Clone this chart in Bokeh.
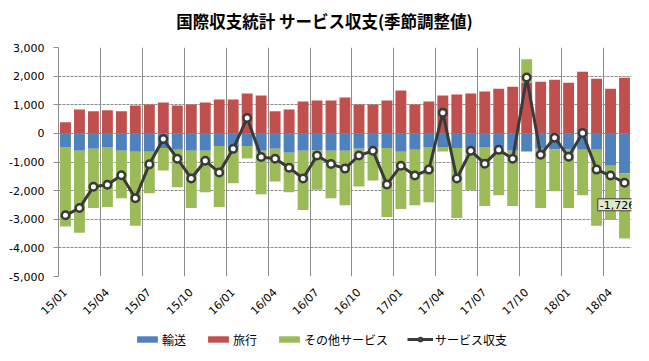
import math
from bokeh.plotting import figure
from bokeh.layouts import column
from bokeh.models import (ColumnDataSource, FixedTicker, NumeralTickFormatter,
                          Legend, LegendItem, Label, Range1d)
from bokeh.embed import file_html
from bokeh.resources import INLINE

# ---- data (億円, 季節調整値) ----
months = ["15/01", "15/02", "15/03", "15/04", "15/05", "15/06", "15/07", "15/08", "15/09",
          "15/10", "15/11", "15/12", "16/01", "16/02", "16/03", "16/04", "16/05", "16/06",
          "16/07", "16/08", "16/09", "16/10", "16/11", "16/12", "17/01", "17/02", "17/03",
          "17/04", "17/05", "17/06", "17/07", "17/08", "17/09", "17/10", "17/11", "17/12",
          "18/01", "18/02", "18/03", "18/04", "18/05"]
tick_labels = ["15/01", "15/04", "15/07", "15/10", "16/01", "16/04", "16/07", "16/10",
               "17/01", "17/04", "17/07", "17/10", "18/01", "18/04"]

transport = [-472, -610, -541, -472, -610, -645, -645, -507, -576, -610,
             -610, -438, -480, -438, -610, -541, -679, -610, -600, -610,
             -610, -540, -500, -507, -645, -576, -472, -472, -507, -507,
             -472, -472, -610, -634, -541, -560, -560, -576, -576, -1128, -1404]
travel = [390, 838, 770, 804, 770, 977, 1011, 1080, 977, 1011,
          1080, 1184, 1184, 1390, 1321, 770, 838, 1115, 1149, 1149,
          1253, 1011, 1011, 1149, 1494, 1011, 1115, 1321, 1356, 1390,
          1459, 1563, 1631, 1780, 1804, 1873, 1770, 2149, 1907, 1563, 1941]
other = [-2780, -2862, -2069, -2104, -1656, -2586, -1448, -793, -1310, -2000,
         -1449, -2138, -1258, -438, -1518, -1138, -1380, -2069, -1366, -1656,
         -1897, -1312, -1145, -2414, -2000, -1931, -1932, -162, -2448, -1483,
         -2069, -1690, -1931, 806, -2069, -1464, -2050, -1586, -2655, -1896, -2265]
balance = [-2862, -2610, -1862, -1793, -1461, -2266, -1082, -197, -886, -1576,
           -955, -1369, -541, 538, -828, -886, -1197, -1576, -772, -1070,
           -1231, -772, -610, -1783, -1128, -1473, -1266, 724, -1576, -610,
           -1059, -576, -886, 1952, -748, -150, -817, 10, -1266, -1473, -1726]

series_names = ["輸送", "旅行", "その他サービス", "サービス収支"]
colors = ["#4F81BD", "#C0504D", "#9BBB59", "#3A3A3A"]
title_text = "国際収支統計 サービス収支(季節調整値)"

# ---- stacking (positives and negatives stacked separately) ----
n = len(months)
xs = [i + 0.5 for i in range(n)]
o_bottom, o_top = [], []
for t, tr, o in zip(transport, travel, other):
    if o < 0:
        o_top.append(t)
        o_bottom.append(t + o)
    else:
        o_bottom.append(tr)
        o_top.append(tr + o)

src = ColumnDataSource(dict(x=xs, transport=transport, travel=travel,
                            o_bottom=o_bottom, o_top=o_top, balance=balance,
                            zero=[0] * n))
# swatch-only source for the legend strip (draws nothing, only legend swatches)
nan = float("nan")
swatch = ColumnDataSource(dict(x=[nan], transport=[nan], travel=[nan], o_bottom=[nan],
                               o_top=[nan], balance=[nan], zero=[nan]))

JP = "Noto Sans CJK JP"
NUM = "DejaVu Sans"
GRID = "#8C8C8C"
W = 0.78


def strip(height, x_range, y_range):
    f = figure(width=641, height=height, x_range=x_range, y_range=y_range,
               output_backend="svg", toolbar_location=None,
               x_axis_location=None, y_axis_location=None,
               min_border_left=0, min_border_right=0, min_border_top=0, min_border_bottom=0)
    f.outline_line_color = None
    f.grid.visible = False
    f.background_fill_color = "white"
    f.border_fill_color = "white"
    return f


# ---- title strip ----
tf = strip(34, Range1d(0, 1), Range1d(0, 1))
tf.add_layout(Label(x=266, y=14, x_units="screen", y_units="screen", text=title_text,
                    text_align="center", text_baseline="middle",
                    text_font=JP, text_font_size="16.5px", text_font_style="bold",
                    text_color="#000000"))

# ---- main chart ----
p = figure(width=641, height=291, x_range=Range1d(0, n), y_range=Range1d(-5000, 3000),
           output_backend="svg", toolbar_location=None,
           min_border_left=58, min_border_right=10, min_border_top=13, min_border_bottom=47)
p.outline_line_color = None
p.background_fill_color = "white"
p.border_fill_color = "white"

# grids
p.ygrid.ticker = FixedTicker(ticks=list(range(-5000, 3001, 1000)))
p.ygrid.grid_line_color = GRID
p.ygrid.grid_line_dash = "3 1"
p.xgrid.ticker = FixedTicker(ticks=[i for i in range(0, n, 3)])
p.xgrid.grid_line_color = GRID

# y axis
p.yaxis.ticker = FixedTicker(ticks=list(range(-5000, 3001, 1000)))
p.yaxis.formatter = NumeralTickFormatter(format="0,0")
p.yaxis.axis_line_color = GRID
p.yaxis.major_tick_line_color = GRID
p.yaxis.major_tick_out = 5
p.yaxis.major_tick_in = 0
p.yaxis.minor_tick_line_color = None
p.yaxis.major_label_standoff = 9
p.yaxis.major_label_text_font = NUM
p.yaxis.major_label_text_font_size = "11px"
p.yaxis.major_label_text_color = "#000000"

# x axis
tick_pos = [i + 0.5 for i in range(0, n, 3)]
p.xaxis.ticker = FixedTicker(ticks=tick_pos)
p.xaxis.major_label_overrides = {pos: lab for pos, lab in zip(tick_pos, tick_labels)}
p.xaxis.major_label_orientation = math.pi / 4
p.xaxis.axis_line_color = None
p.xaxis.major_tick_line_color = None
p.xaxis.minor_tick_line_color = None
p.xaxis.major_label_standoff = 8
p.xaxis.major_label_text_font = NUM
p.xaxis.major_label_text_font_size = "11px"
p.xaxis.major_label_text_color = "#000000"


def draw_series(f, source):
    a = f.vbar(x="x", width=W, bottom="zero", top="transport", source=source,
               fill_color=colors[0], line_color=None)
    b = f.vbar(x="x", width=W, bottom="zero", top="travel", source=source,
               fill_color=colors[1], line_color=None)
    c = f.vbar(x="x", width=W, bottom="o_bottom", top="o_top", source=source,
               fill_color=colors[2], line_color=None)
    d = f.line(x="x", y="balance", source=source, line_color=colors[3], line_width=3)
    e = f.scatter(x="x", y="balance", source=source, marker="circle", size=7.5,
                  fill_color="white", line_color=colors[3], line_width=2.5)
    return a, b, c, d, e


draw_series(p, src)

# data label on last point
p.add_layout(Label(x=xs[-1], y=balance[-1], text=f"{balance[-1]:,}", x_offset=-7, y_offset=-22,
                   text_align="center", text_baseline="middle",
                   text_font=NUM, text_font_size="11px", text_color="#000000",
                   background_fill_color="#DDE8CC", border_line_color="#404040",
                   border_line_width=1, padding=2))

# ---- legend strip ----
lg = strip(28, Range1d(0, 1), Range1d(0, 1))
g_tr, g_tv, g_ot, g_ln, g_pt = draw_series(lg, swatch)
legend = Legend(items=[LegendItem(label=series_names[0], renderers=[g_tr]),
                       LegendItem(label=series_names[1], renderers=[g_tv]),
                       LegendItem(label=series_names[2], renderers=[g_ot]),
                       LegendItem(label=series_names[3], renderers=[g_ln, g_pt])],
                orientation="horizontal", location=(76, 4),
                glyph_width=26, glyph_height=8, label_standoff=2, spacing=19,
                padding=0, margin=0, border_line_color=None, background_fill_alpha=0,
                label_text_font=JP, label_text_font_size="12px", label_text_color="#000000",
                label_height=20)
lg.add_layout(legend, "center")

layout = column(tf, p, lg, spacing=0)
open("out.html", "w").write(file_html(layout, INLINE))
